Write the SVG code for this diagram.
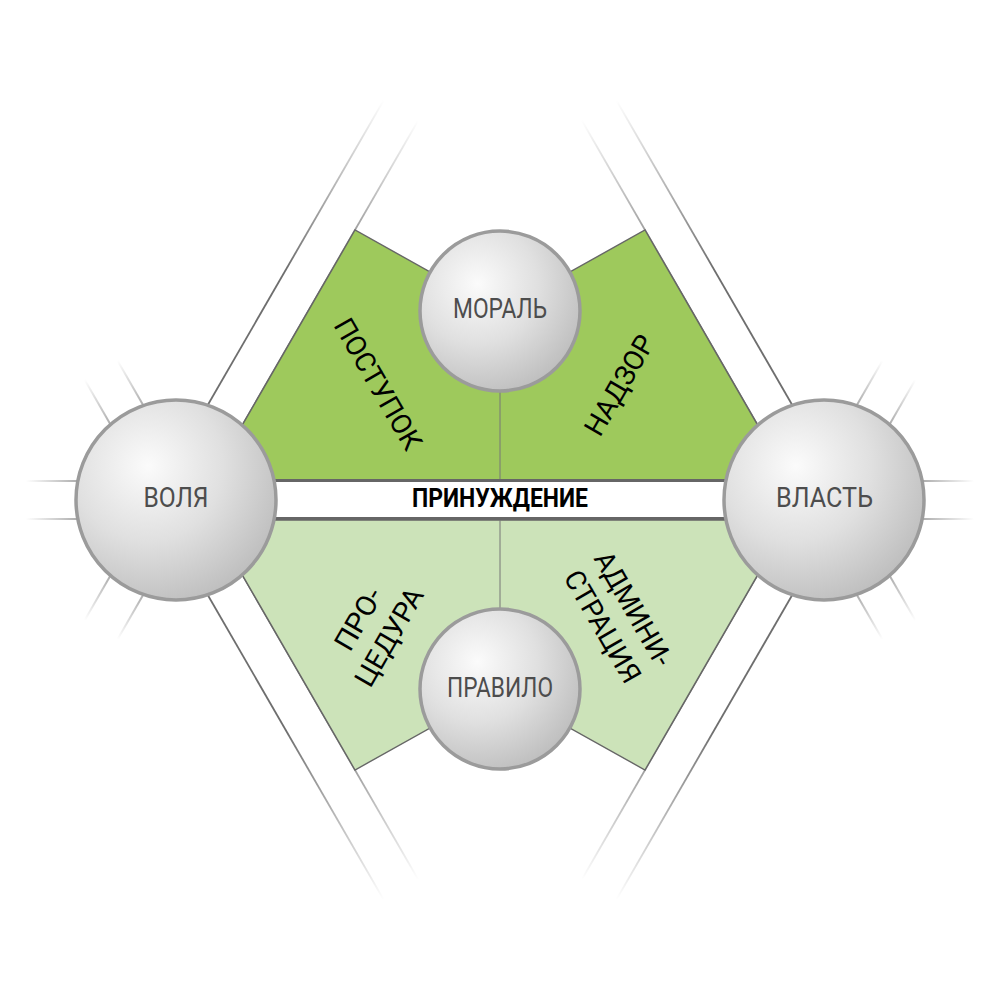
<svg xmlns="http://www.w3.org/2000/svg" xmlns:xlink="http://www.w3.org/1999/xlink" width="1000" height="1000" viewBox="0 0 1000 1000">
<style>
.lbl{font-family:Roboto,"Liberation Sans",sans-serif;font-size:28px;fill:#000;text-anchor:middle}
.cl{font-family:Roboto,"Liberation Sans",sans-serif;font-size:28px;fill:#4d4d4d;text-anchor:middle}
.ball{fill:url(#gBall);stroke:#9b9b9b;stroke-width:3.5}
.band{stroke:#666;stroke-width:3;fill:none}
.div{stroke:#777;stroke-width:1;fill:none}
.up{fill:#9ec95c;stroke:#666;stroke-width:1.4;stroke-linejoin:miter}
.lo{fill:#cce3b9;stroke:#666;stroke-width:1.4;stroke-linejoin:miter}
</style>
<defs>
<radialGradient id="gBall" cx="0.36" cy="0.33" r="0.75" fx="0.36" fy="0.33">
<stop offset="0" stop-color="#fbfbfb"/>
<stop offset="0.5" stop-color="#e0e0e0"/>
<stop offset="1" stop-color="#bbbbbb"/>
</radialGradient>
<linearGradient id="gS" x1="0" y1="0" x2="1" y2="0">
<stop offset="0" stop-color="#a8a8a8" stop-opacity="0"/>
<stop offset="1" stop-color="#a8a8a8"/>
</linearGradient>
<linearGradient id="gL" x1="0" y1="0" x2="1" y2="0">
<stop offset="0" stop-color="#6e6e6e" stop-opacity="0"/>
<stop offset="0.55" stop-color="#6e6e6e"/>
<stop offset="1" stop-color="#6e6e6e"/>
</linearGradient>
<g id="sp">
<rect x="-150" y="-20" width="55" height="2" fill="url(#gS)"/>
<rect x="-150" y="18" width="55" height="2" fill="url(#gS)"/>
</g>
<g id="lp">
<rect x="-450" y="-20.9" width="355" height="1.8" fill="url(#gL)"/>
<rect x="-450" y="19.1" width="355" height="1.8" fill="url(#gL)"/>
</g>
</defs>
<rect width="1000" height="1000" fill="#fff"/>
<g id="connectors">
<use xlink:href="#sp" transform="translate(176,500)"/>
<use xlink:href="#sp" transform="translate(176,500) rotate(60)"/>
<use xlink:href="#sp" transform="translate(176,500) rotate(-60)"/>
<use xlink:href="#lp" transform="translate(176,500) rotate(120)"/>
<use xlink:href="#lp" transform="translate(176,500) rotate(240)"/>
<use xlink:href="#sp" transform="translate(824,500) rotate(180)"/>
<use xlink:href="#sp" transform="translate(824,500) rotate(120)"/>
<use xlink:href="#sp" transform="translate(824,500) rotate(240)"/>
<use xlink:href="#lp" transform="translate(824,500) rotate(60)"/>
<use xlink:href="#lp" transform="translate(824,500) rotate(-60)"/>
</g>
<g id="sectors">
<polygon class="up" points="210.6,480 355,230 500,311 645,230 789.4,480"/>
<polygon class="lo" points="210.6,520 355,770 500,689 645,770 789.4,520"/>
<line class="div" x1="500" y1="311" x2="500" y2="480"/>
<line class="div" x1="500" y1="520" x2="500" y2="689"/>
</g>
<g id="band">
<rect x="176" y="482" width="648" height="35" fill="#fff"/>
<line class="band" x1="176" y1="480.5" x2="824" y2="480.5"/>
<line class="band" x1="176" y1="518.5" x2="824" y2="518.5"/>
<text x="500" y="507" font-family="Roboto, 'Liberation Sans', sans-serif" font-size="25" font-weight="bold" fill="#000" text-anchor="middle" textLength="176" lengthAdjust="spacingAndGlyphs">ПРИНУЖДЕНИЕ</text>
</g>
<g id="label-postupok">
<text class="lbl" transform="translate(378.3,383.8) rotate(60)" x="0" y="10" textLength="147" lengthAdjust="spacingAndGlyphs">ПОСТУПОК</text>
</g>
<g id="label-nadzor">
<text class="lbl" transform="translate(619.2,385) rotate(-60)" x="0" y="10" textLength="111" lengthAdjust="spacingAndGlyphs">НАДЗОР</text>
</g>
<g id="label-procedura">
<text class="lbl" transform="translate(373.4,628) rotate(-60)"><tspan x="0" y="-7.8" textLength="67" lengthAdjust="spacingAndGlyphs">ПРО-</tspan><tspan x="0" y="27.8" textLength="109" lengthAdjust="spacingAndGlyphs">ЦЕДУРА</tspan></text>
</g>
<g id="label-administracia">
<text class="lbl" transform="translate(618.3,617.5) rotate(60)"><tspan x="0" y="-7.8" textLength="127" lengthAdjust="spacingAndGlyphs">АДМИНИ-</tspan><tspan x="0" y="27.8" textLength="125" lengthAdjust="spacingAndGlyphs">СТРАЦИЯ</tspan></text>
</g>
<g id="node-volya">
<circle class="ball" cx="176" cy="500" r="100"/>
<text class="cl" x="176" y="507" textLength="65" lengthAdjust="spacingAndGlyphs">ВОЛЯ</text>
</g>
<g id="node-vlast">
<circle class="ball" cx="824" cy="500" r="100"/>
<text class="cl" x="824.5" y="507" textLength="97" lengthAdjust="spacingAndGlyphs">ВЛАСТЬ</text>
</g>
<g id="node-moral">
<circle class="ball" cx="500" cy="311" r="80"/>
<text class="cl" x="500" y="318" textLength="94" lengthAdjust="spacingAndGlyphs">МОРАЛЬ</text>
</g>
<g id="node-pravilo">
<circle class="ball" cx="500" cy="689" r="80"/>
<text class="cl" x="500" y="697" textLength="106" lengthAdjust="spacingAndGlyphs">ПРАВИЛО</text>
</g>
</svg>
